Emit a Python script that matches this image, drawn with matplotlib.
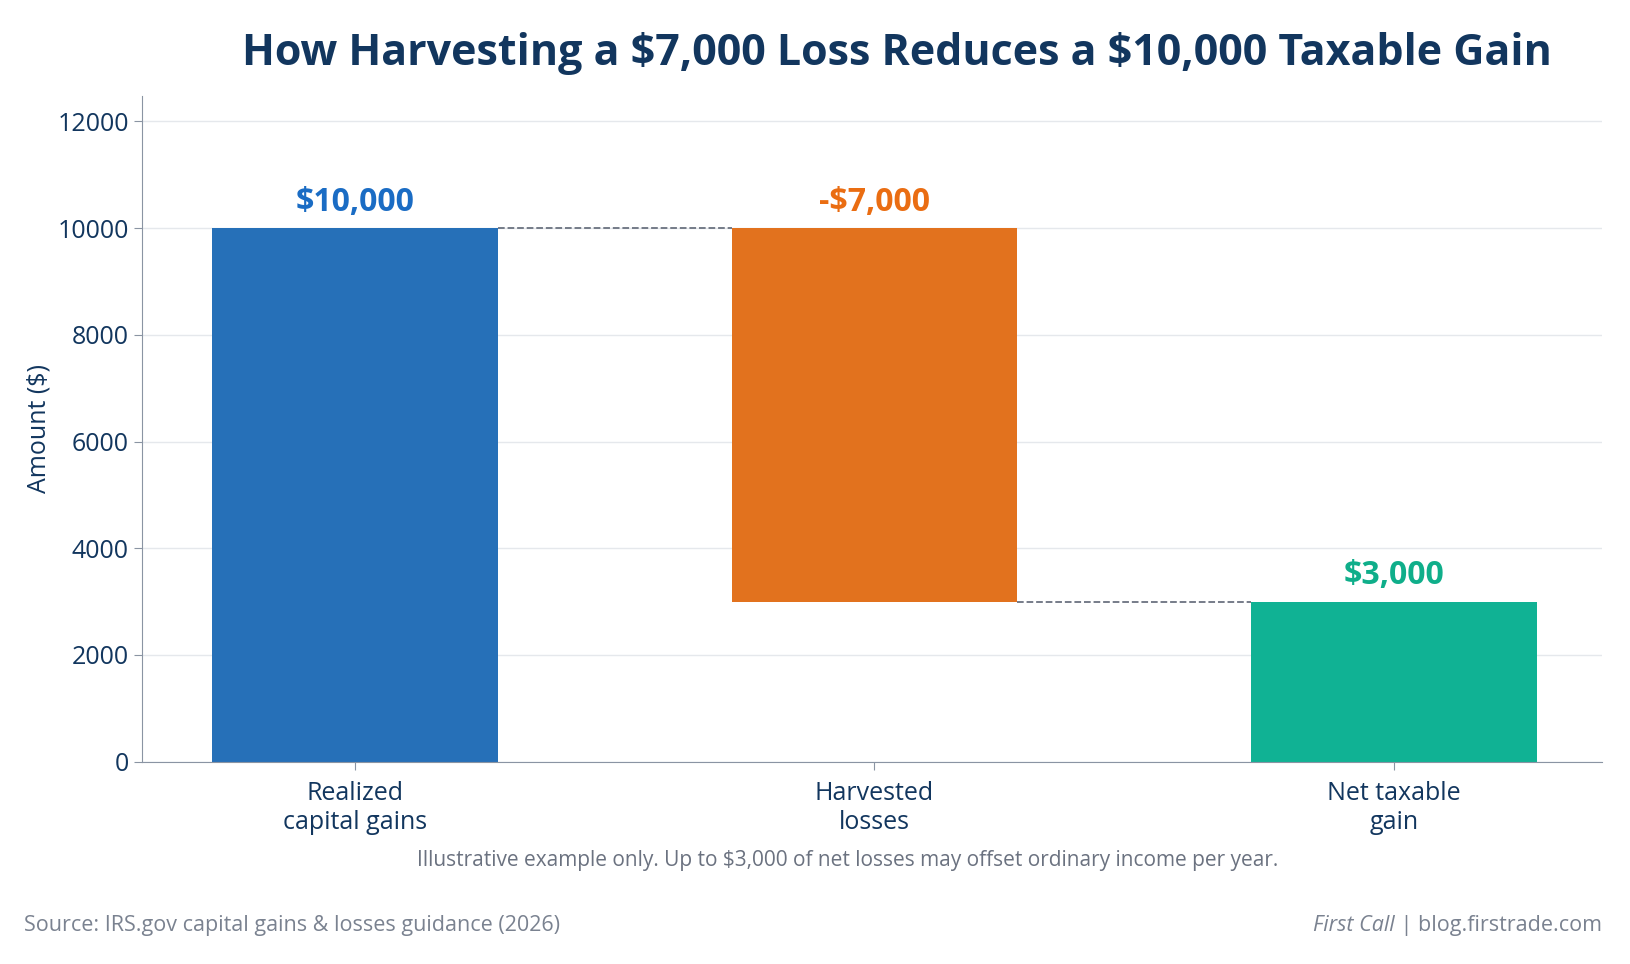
import matplotlib as mpl
import matplotlib.pyplot as plt

mpl.rcParams["font.family"] = ["Open Sans", "DejaVu Sans"]

categories = ["Realized\ncapital gains", "Harvested\nlosses", "Net taxable\ngain"]
changes = [10000, -7000, 3000]
labels = [r"\$10,000", r"-\$7,000", r"\$3,000"]
bar_colors = ["#2670B8", "#E2721E", "#10B294"]
text_colors = ["#1A6CC4", "#EA6D12", "#0FAE8A"]

# waterfall bottoms / heights
bottoms = [0, changes[0] + changes[1], 0]
heights = [changes[0], -changes[1], changes[2]]
tops = [b + h for b, h in zip(bottoms, heights)]

navy = "#12365E"
grey = "#7A8290"
fig = plt.figure(figsize=(16.31, 9.64), dpi=100)
ax = fig.add_axes([0.087, 0.21, 0.895, 0.69])

x = list(range(len(categories)))
ax.bar(x, heights, 0.55, bottom=bottoms, color=bar_colors, zorder=2)

for i in x:
    ax.text(i, tops[i] + 180, labels[i], ha="center", va="bottom",
            fontsize=23, fontweight="bold", color=text_colors[i])

# connectors
ax.plot([0 + 0.275, 1 - 0.275], [tops[0], tops[0]], ls="--", color="#6B7280", lw=1.3, zorder=1)
ax.plot([1 + 0.275, 2 - 0.275], [bottoms[1], bottoms[1]], ls="--", color="#6B7280", lw=1.3, zorder=1)

ax.set_xlim(-0.41, 2.4)
ax.set_ylim(0, 12470)
ax.set_yticks(range(0, 12001, 2000))
ax.set_xticks(x, categories)
ax.tick_params(axis="both", labelsize=18, colors="#8A94A3", labelcolor=navy, length=6)
ax.tick_params(axis="x", pad=8)
ax.grid(axis="y", color="#E5E8EC", lw=1, zorder=0)
ax.set_axisbelow(True)
for s in ["top", "right"]:
    ax.spines[s].set_visible(False)
for s in ["left", "bottom"]:
    ax.spines[s].set_color("#8A94A3")
ax.set_ylabel(r"Amount (\$)", fontsize=18, color=navy)

fig.text(0.55, 0.945, r"How Harvesting a \$7,000 Loss Reduces a \$10,000 Taxable Gain",
         ha="center", va="center", fontsize=31, fontweight="bold", color=navy)
fig.text(0.52, 0.107, r"Illustrative example only. Up to \$3,000 of net losses may offset ordinary income per year.",
         ha="center", va="center", fontsize=15, color="#6B7280")
fig.text(0.015, 0.04, "Source: IRS.gov capital gains & losses guidance (2026)",
         ha="left", va="center", fontsize=15.5, color=grey)
t = fig.text(0.982, 0.04, " | blog.firstrade.com", ha="right", va="center", fontsize=15.5, color=grey)
fig.canvas.draw()
bb = t.get_window_extent().transformed(fig.transFigure.inverted())
fig.text(bb.x0, 0.04, "First Call", ha="right", va="center", fontsize=15.5,
         color=grey, style="italic")

fig.savefig("out.png", dpi=100)
